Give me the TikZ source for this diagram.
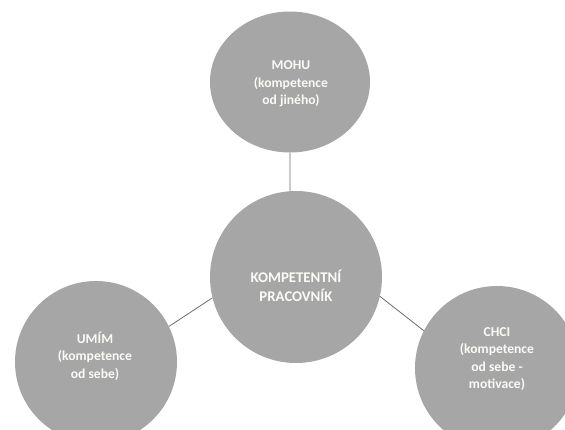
\documentclass[tikz,border=0pt]{standalone}
\usepackage{fontspec}
\setmainfont{Carlito}
\usetikzlibrary{shapes.geometric}
\definecolor{circgray}{RGB}{166,166,166}
\definecolor{linegray}{RGB}{110,110,110}
\definecolor{txtwhite}{RGB}{250,250,246}
\tikzset{
  disc/.style={ellipse, fill=circgray, inner sep=0pt},
  outertext/.style={text=txtwhite, align=center, inner sep=0pt,
    font=\fontsize{13.6}{17.5}\selectfont\bfseries},
  centretext/.style={text=txtwhite, align=center, inner sep=0pt,
    font=\fontsize{14.8}{19}\selectfont\bfseries},
  link/.style={draw=linegray, line width=0.8pt}
}
\begin{document}
\begin{tikzpicture}[x=1pt,y=-1pt]
\useasboundingbox[fill=white] (0,0) rectangle (565,429);
\begin{scope}
\clip (0,0) rectangle (565,429);
\node[disc, minimum width=160pt, minimum height=141pt] (t) at (290,82) {};
\node[disc, minimum width=172pt, minimum height=172pt] (c) at (296,277) {};
\node[disc, minimum width=162pt, minimum height=162pt] (l) at (96,362) {};
\node[disc, minimum width=164pt, minimum height=164pt] (r) at (497,368) {};
\node[outertext] (ttext) at (291,84) {MOHU\\(kompetence\\od jiného)};
\node[centretext] (ctext) at (296,286) {KOMPETENTNÍ\\PRACOVNÍK};
\node[outertext] (ltext) at (95,356) {UMÍM\\(kompetence\\od sebe)};
\node[outertext] (rtext) at (497,359) {CHCI\\(kompetence\\od sebe -\\motivace)};
\draw[link] (t.270) -- (c.94);
\draw[link] (l.26.6) -- (c.194);
\draw[link] (c.347) -- (r.153);
\end{scope}
\end{tikzpicture}
\end{document}
